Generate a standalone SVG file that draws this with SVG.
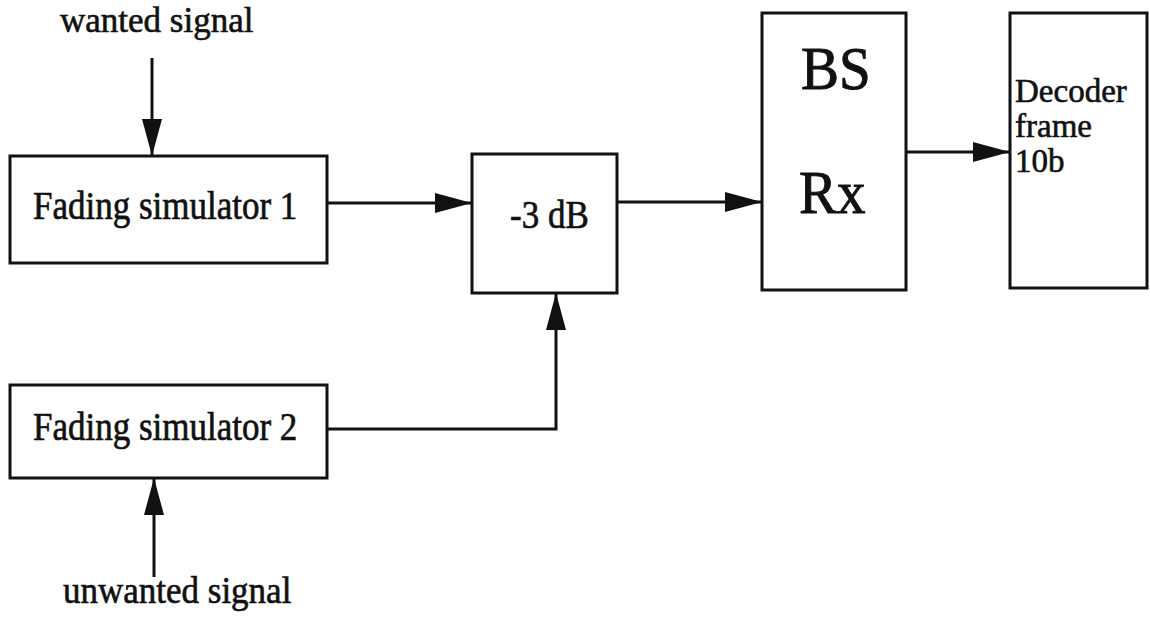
<svg xmlns="http://www.w3.org/2000/svg" width="1150" height="622" viewBox="0 0 1150 622">
  <style>
    .box { fill: #fff; stroke: #111; stroke-width: 3; }
    .wire { fill: none; stroke: #111; stroke-width: 3; }
    .lbl { font-family: "Liberation Serif", "Times New Roman", serif; font-size: 35px; fill: #111; stroke: #111; stroke-width: 0.6; }
    .big { font-size: 57px; stroke-width: 0.9; }
    .small { font-size: 33px; }
  </style>
  <defs>
    <marker id="arrow" markerUnits="userSpaceOnUse" markerWidth="37" markerHeight="20" refX="37" refY="10" orient="auto">
      <path d="M0,0 L37,10 L0,20 z" fill="#111"/>
    </marker>
  </defs>

  <rect width="1150" height="622" fill="#fff"/>

  <!-- signal connectors -->
  <g id="connectors">
    <line class="wire" x1="152" y1="58" x2="152" y2="156" marker-end="url(#arrow)"/>
    <line class="wire" x1="327" y1="203" x2="472" y2="203" marker-end="url(#arrow)"/>
    <polyline class="wire" points="327,429 556,429 556,293" marker-end="url(#arrow)"/>
    <line class="wire" x1="617" y1="202" x2="762" y2="202" marker-end="url(#arrow)"/>
    <line class="wire" x1="906" y1="152" x2="1010" y2="152" marker-end="url(#arrow)"/>
    <line class="wire" x1="154" y1="577" x2="154" y2="478" marker-end="url(#arrow)"/>
  </g>

  <g id="wanted-label">
    <text class="lbl" x="60" y="32">wanted signal</text>
  </g>

  <!-- box labels get a slight vertical stretch for taller glyphs -->
  <g id="fading-sim-1">
    <rect class="box" x="10" y="156" width="317" height="107"/>
    <text class="lbl" transform="translate(33,219) scale(1,1.12)">Fading simulator 1</text>
  </g>

  <g id="fading-sim-2">
    <rect class="box" x="10" y="385" width="317" height="93"/>
    <text class="lbl" transform="translate(33,440) scale(1,1.12)">Fading simulator 2</text>
  </g>

  <g id="unwanted-label">
    <text class="lbl" transform="translate(63,603) scale(1,1.1)">unwanted signal</text>
  </g>

  <g id="attenuator">
    <rect class="box" x="472" y="154" width="145" height="139"/>
    <text class="lbl" transform="translate(510,228) scale(1,1.12)">-3 dB</text>
  </g>

  <g id="bs-rx">
    <rect class="box" x="762" y="13" width="144" height="277"/>
    <text class="lbl big" transform="translate(801,89) scale(1,1.08)">BS</text>
    <text class="lbl big" transform="translate(799,213) scale(1,1.08)">Rx</text>
  </g>

  <g id="decoder">
    <rect class="box" x="1010" y="13" width="137" height="275"/>
    <text class="lbl small" x="1015" y="102">Decoder</text>
    <text class="lbl small" x="1015" y="137">frame</text>
    <text class="lbl small" x="1015" y="172">10b</text>
  </g>
</svg>
